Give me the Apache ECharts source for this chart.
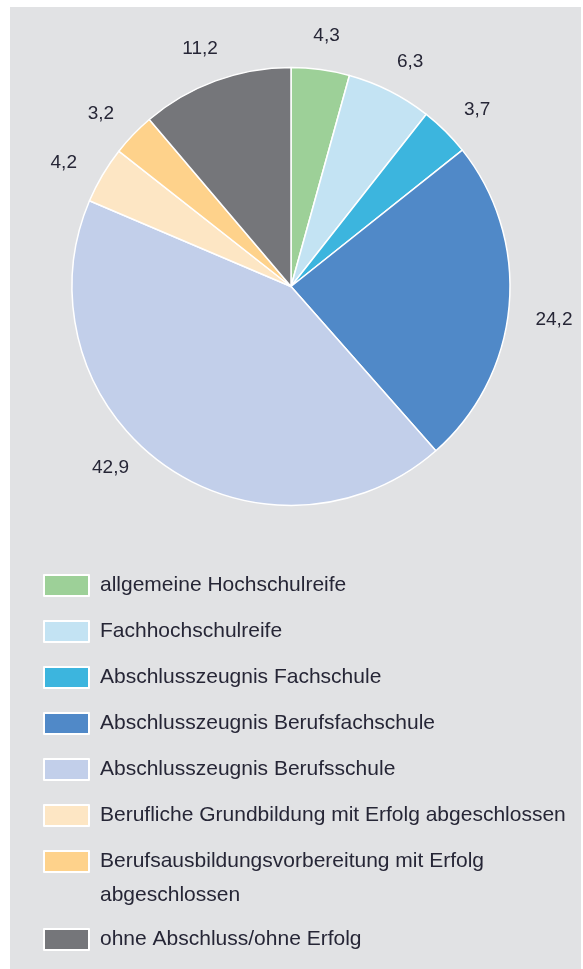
<!DOCTYPE html>
<html>
<head>
<meta charset="utf-8">
<script src="https://cdn.jsdelivr.net/npm/echarts@6/dist/echarts.min.js"></script>
<style>
  html, body { margin: 0; padding: 0; background: #ffffff; }
  #main { position: absolute; left: 10px; top: 7px; width: 571px; height: 962px; background: #e1e2e4; }
</style>
</head>
<body>
<div id="main"></div>
<script>
// Anteile in Prozent, im Uhrzeigersinn ab 12 Uhr
var categories = [
    'allgemeine Hochschulreife',
    'Fachhochschulreife',
    'Abschlusszeugnis Fachschule',
    'Abschlusszeugnis Berufsfachschule',
    'Abschlusszeugnis Berufsschule',
    'Berufliche Grundbildung mit Erfolg abgeschlossen',
    'Berufsausbildungsvorbereitung mit Erfolg\nabgeschlossen',
    'ohne Abschluss/ohne Erfolg'
];
var values = [4.3, 6.3, 3.7, 24.2, 42.9, 4.2, 3.2, 11.2];
var colors = ['#9dd098', '#c3e3f3', '#3cb5de', '#5089c8', '#c2cfea', '#fde6c4', '#fed28b', '#75767a'];

var textColor = '#262636';
var fontFamily = '"Liberation Sans", Arial, sans-serif';

var chart = echarts.init(document.getElementById('main'));

var pieData = [];
for (var i = 0; i < categories.length; i++) {
    pieData.push({ name: categories[i], value: values[i], itemStyle: { color: colors[i] } });
}
var labelData = [];
for (var j = 0; j < categories.length; j++) {
    labelData.push({ name: categories[j], value: values[j] });
}
// die große Scheibe ist im Original links neben der Mitte beschriftet
labelData[4].label = { offset: [-26, -43] };

function firstLine(name) { return name.split('\n')[0]; }

var legendCommon = {
    orient: 'vertical',
    left: 33,
    padding: 0,
    itemWidth: 45,
    itemHeight: 21,
    itemGap: 23,
    icon: 'rect',
    selectedMode: false,
    itemStyle: { borderColor: '#ffffff', borderWidth: 2 },
    formatter: firstLine,
    textStyle: {
        color: textColor,
        fontFamily: fontFamily,
        fontSize: 21,
        lineHeight: 23,
        padding: [0, 0, 0, 6]
    }
};

var option = {
    animation: false,
    legend: [
        echarts.util.extend({ top: 567, data: categories.slice(0, 7) }, legendCommon),
        echarts.util.extend({ top: 921, data: categories.slice(7) }, legendCommon)
    ],
    graphic: [{
        type: 'text',
        left: 90,
        top: 878,
        silent: true,
        style: {
            text: categories[6].split('\n')[1],
            fill: textColor,
            font: '21px ' + fontFamily
        }
    }],
    series: [
        {
            type: 'pie',
            center: [281, 279.5],
            radius: [0, 219],
            startAngle: 90,
            clockwise: true,
            silent: true,
            label: { show: false },
            labelLine: { show: false },
            itemStyle: { borderColor: '#ffffff', borderWidth: 1.5 },
            emphasis: { disabled: true },
            data: pieData
        },
        {
            // unsichtbarer Ring, traegt nur die Werte-Beschriftung
            type: 'pie',
            center: [281, 290],
            radius: [221, 301],
            startAngle: 90,
            clockwise: true,
            silent: true,
            avoidLabelOverlap: false,
            itemStyle: { color: 'rgba(0,0,0,0)' },
            emphasis: { disabled: true },
            label: {
                show: true,
                position: 'inside',
                rotate: 0,
                color: textColor,
                fontFamily: fontFamily,
                fontSize: 19,
                formatter: function (p) { return String(p.value).replace('.', ','); }
            },
            labelLine: { show: false },
            data: labelData
        }
    ]
};

chart.setOption(option);
</script>
</body>
</html>
